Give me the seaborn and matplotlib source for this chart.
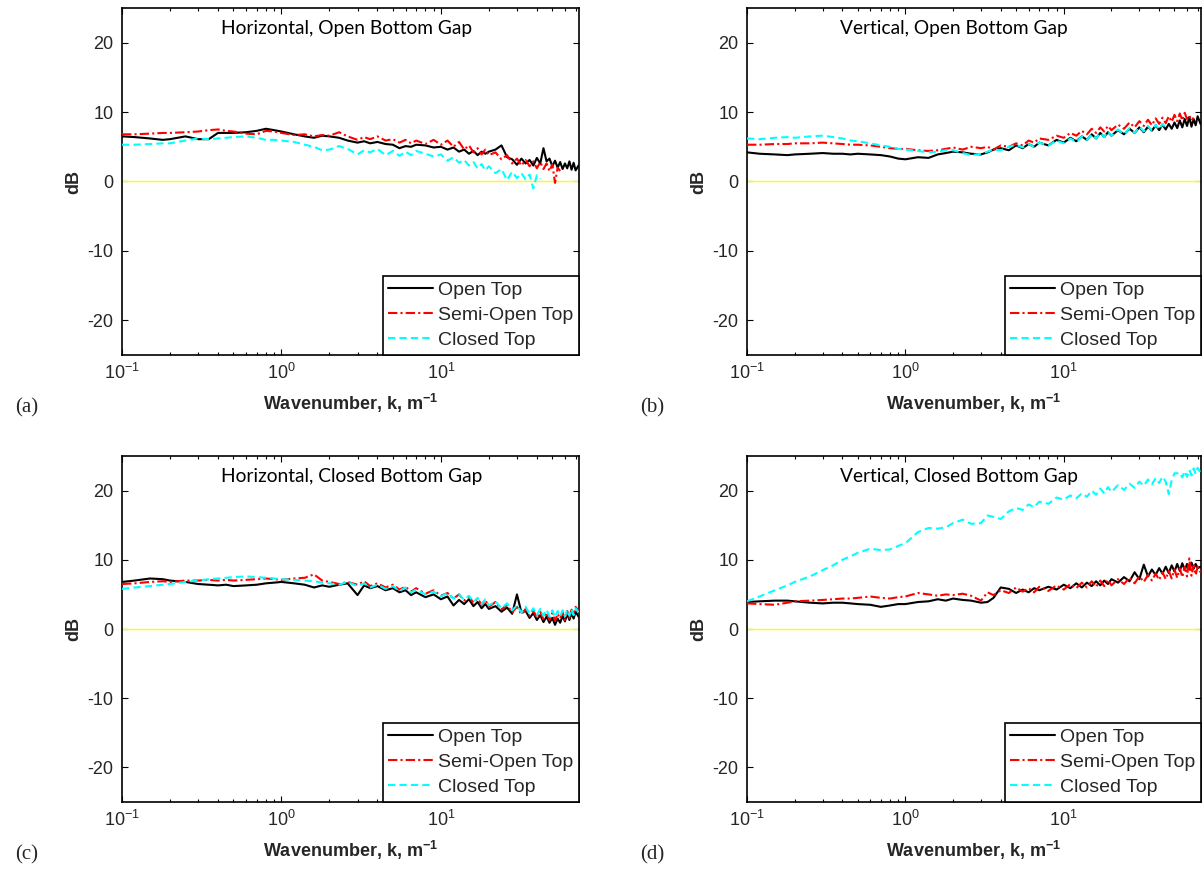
import numpy as np
import pandas as pd
import matplotlib
matplotlib.use("Agg")
import matplotlib.pyplot as plt
from matplotlib.ticker import LogLocator, FixedLocator, NullFormatter, FixedFormatter
import seaborn as sns

# Wavenumber sampling (m^-1)
k = [0.1, 0.12, 0.15, 0.18, 0.2, 0.25, 0.3, 0.35, 0.4, 0.45, 0.5, 0.6, 0.7, 0.8, 0.9, 1.0,
     1.2, 1.4, 1.6, 1.8, 2.0, 2.3, 2.6, 3.0, 3.3, 3.6, 4.0, 4.5, 5.0, 5.5, 6.0, 6.5, 7.0, 8.0, 9.0, 10,
     11, 12, 13, 14, 15, 16, 17, 18, 19, 20, 22, 24, 26, 28, 30, 32, 34, 36, 38, 40, 42, 44, 46, 48,
     50, 52, 54, 56, 58, 60, 62, 64, 66, 68, 70, 73]

# (a) Horizontal, Open Bottom Gap
a_open = [6.5, 6.4, 6.2, 6.0, 6.1, 6.5, 6.1, 6.1, 7.0, 7.0, 7.0, 7.1, 7.3, 7.6, 7.4, 7.2,
          6.8, 6.5, 6.3, 6.6, 6.5, 6.3, 5.9, 5.6, 5.8, 5.5, 5.7, 5.4, 5.3, 4.8, 5.1, 5.0, 5.3, 5.2, 4.9, 5.0,
          4.6, 4.9, 4.3, 4.6, 4.0, 4.4, 3.8, 4.3, 4.0, 4.3, 4.6, 5.2, 3.5, 3.2, 2.4, 3.3, 2.6, 3.1, 2.3, 3.4,
          2.6, 4.8, 2.9, 3.3, 2.2, 3.0, 2.0, 2.8, 1.8, 2.6, 1.9, 2.9, 1.7, 2.7, 1.6, 2.3]
a_semi = [6.8, 6.8, 6.9, 7.0, 7.0, 7.1, 7.2, 7.4, 7.5, 7.3, 7.2, 6.9, 6.8, 7.3, 7.2, 7.0,
          6.7, 6.8, 6.5, 6.7, 6.6, 7.1, 6.5, 6.0, 6.4, 6.1, 6.5, 5.9, 6.1, 5.6, 6.0, 5.5, 5.9, 5.4, 6.0, 5.3,
          5.9, 5.0, 5.7, 4.6, 5.2, 4.2, 4.8, 3.9, 4.6, 3.8, 4.2, 3.2, 3.8, 2.6, 3.3, 2.3, 3.1, 2.2, 2.9, 1.9,
          2.8, 1.8, 2.6, 1.5, 2.5, -0.2, 2.0, 1.5]
a_closed = [5.3, 5.3, 5.4, 5.5, 5.5, 5.9, 6.2, 6.1, 6.2, 6.3, 6.4, 6.5, 6.3, 6.0, 6.0, 5.9,
            5.7, 5.3, 5.0, 4.5, 4.6, 5.1, 4.7, 3.9, 4.5, 4.2, 4.7, 3.8, 4.4, 3.7, 4.3, 3.8, 4.4, 4.0, 3.6, 3.9,
            3.0, 3.5, 2.7, 3.1, 2.3, 2.8, 1.9, 2.5, 1.6, 2.2, 1.2, 1.8, 0.2, 1.4, 0.5, 1.2, 0.3, 1.0, -1.0, 0.9,
            0.4]

# (b) Vertical, Open Bottom Gap
b_open = [4.2, 4.0, 3.9, 3.8, 3.9, 4.0, 4.1, 4.0, 4.0, 3.9, 4.0, 3.9, 3.8, 3.6, 3.3, 3.2,
          3.5, 3.4, 3.9, 4.1, 4.3, 4.2, 4.0, 3.9, 4.2, 4.6, 4.8, 4.5, 5.2, 4.8, 5.4, 5.0, 5.6, 5.2, 6.0, 5.6,
          6.3, 5.8, 6.5, 6.0, 6.8, 6.2, 7.0, 6.4, 7.1, 6.6, 7.4, 6.8, 7.6, 7.0, 7.8, 7.1, 7.9, 7.3, 8.1, 7.4,
          8.2, 7.5, 8.3, 7.6, 8.5, 7.7, 8.8, 7.8, 9.0, 8.0, 9.3, 7.9, 9.0, 8.1, 9.4, 8.3]
b_semi = [5.3, 5.3, 5.4, 5.4, 5.5, 5.5, 5.6, 5.5, 5.4, 5.3, 5.3, 5.2, 5.0, 4.8, 4.7, 4.7,
          4.5, 4.4, 4.5, 4.7, 4.9, 4.6, 5.0, 4.8, 5.0, 4.6, 5.2, 5.0, 5.5, 5.2, 5.9, 5.6, 6.2, 6.0, 6.6, 6.3,
          7.0, 6.6, 7.3, 6.8, 7.6, 7.0, 7.8, 7.2, 8.0, 7.4, 8.2, 7.6, 8.5, 7.8, 8.7, 8.0, 8.9, 8.1, 9.1, 8.3,
          9.2, 8.4, 9.4, 8.6, 9.6, 8.7, 9.8, 8.8, 9.9, 9.0, 9.5, 8.8, 9.2]
b_closed = [6.2, 6.1, 6.3, 6.4, 6.3, 6.5, 6.6, 6.4, 6.2, 5.9, 5.8, 5.5, 5.2, 5.0, 4.7, 4.6,
            4.4, 4.2, 4.3, 4.5, 4.5, 4.1, 3.8, 4.0, 4.3, 4.6, 4.5, 5.0, 5.3, 4.9, 5.4, 5.0, 5.6, 5.2, 5.9, 5.5,
            6.2, 5.7, 6.5, 6.0, 6.8, 6.2, 7.0, 6.4, 7.2, 6.6, 7.5, 6.8, 7.7, 7.0, 7.9, 7.2, 8.0, 7.3, 8.2, 7.5,
            8.3, 7.8]

# (c) Horizontal, Closed Bottom Gap
c_open = [6.8, 7.0, 7.3, 7.2, 7.0, 6.8, 6.5, 6.4, 6.3, 6.4, 6.2, 6.3, 6.4, 6.6, 6.7, 6.8,
          6.6, 6.4, 6.0, 6.3, 6.1, 6.4, 6.6, 4.9, 6.3, 5.9, 6.2, 5.6, 5.9, 5.3, 5.6, 4.9, 5.3, 4.6, 5.0, 4.3,
          4.7, 3.4, 4.2, 3.6, 4.3, 3.3, 3.9, 3.0, 3.6, 2.9, 3.3, 2.5, 3.1, 2.2, 5.0, 2.4, 2.6, 1.6, 2.3, 1.3,
          2.0, 1.0, 1.8, 0.9, 1.6, 0.6, 1.5, 0.9, 1.9, 1.1, 2.2, 1.3, 2.3, 1.5, 2.5, 1.8]
c_semi = [6.5, 6.6, 6.8, 6.9, 6.8, 7.0, 7.0, 7.1, 7.0, 7.1, 7.0, 7.1, 7.2, 7.3, 7.2, 7.1,
          7.3, 7.4, 7.9, 7.0, 6.8, 6.5, 6.8, 6.4, 6.9, 6.2, 6.6, 6.0, 6.4, 5.7, 6.1, 5.4, 5.9, 5.1, 5.6, 4.8,
          5.2, 4.4, 5.0, 4.1, 4.7, 3.8, 4.4, 3.5, 4.2, 3.2, 3.9, 2.8, 3.5, 2.4, 3.2, 2.1, 2.9, 1.9, 2.7, 1.6,
          2.5, 1.4, 2.4, 1.3, 2.3, 1.2, 2.2, 1.5, 2.4, 1.3, 2.6, 1.6, 2.8, 2.0, 3.2, 2.6]
c_closed = [5.8, 6.0, 6.2, 6.4, 6.5, 6.8, 7.0, 7.2, 7.3, 7.4, 7.5, 7.6, 7.5, 7.4, 7.3, 7.2,
            7.1, 7.0, 6.9, 6.7, 6.6, 6.4, 6.8, 6.2, 6.6, 6.0, 6.4, 5.8, 6.2, 5.5, 6.0, 5.3, 5.7, 5.0, 5.4, 4.7,
            5.2, 4.4, 5.0, 4.2, 4.8, 3.9, 4.5, 3.6, 4.3, 3.4, 4.0, 3.0, 3.7, 2.7, 3.4, 2.4, 3.2, 2.2, 3.0, 2.0,
            2.9, 1.9, 2.8, 1.8, 2.7, 1.7, 2.6, 1.8, 2.7, 1.8, 2.8, 1.9, 2.9, 2.0, 3.0, 2.4]

# (d) Vertical, Closed Bottom Gap
d_open = [3.9, 4.0, 4.1, 4.1, 4.0, 3.8, 3.7, 3.8, 3.8, 3.7, 3.6, 3.5, 3.2, 3.4, 3.6, 3.6,
          3.9, 4.0, 4.3, 4.1, 4.4, 4.2, 4.1, 3.8, 3.9, 4.5, 6.0, 5.8, 5.2, 5.7, 5.3, 5.9, 5.6, 6.1, 5.7, 6.4,
          5.9, 6.6, 6.0, 6.7, 6.2, 6.9, 6.3, 7.0, 6.5, 7.2, 6.7, 7.5, 6.9, 8.2, 7.2, 9.3, 7.6, 8.6, 7.8, 8.8,
          8.0, 9.0, 8.1, 9.2, 8.3, 9.4, 8.4, 9.5, 8.5, 9.4, 8.6, 9.6, 8.7, 9.4, 8.8, 9.0]
d_semi = [3.7, 3.6, 3.5, 3.8, 4.0, 4.1, 4.2, 4.3, 4.4, 4.4, 4.5, 4.7, 4.5, 4.4, 4.6, 4.7,
          5.2, 5.0, 4.8, 5.0, 4.9, 5.1, 4.8, 4.1, 5.3, 4.9, 5.6, 5.2, 6.0, 5.4, 5.9, 5.3, 6.1, 5.5, 6.3, 5.7,
          6.5, 5.9, 6.7, 6.0, 6.9, 6.1, 7.0, 6.2, 7.1, 6.3, 7.2, 6.5, 7.4, 6.6, 7.6, 6.8, 7.8, 7.0, 8.0, 7.1,
          8.2, 7.2, 8.4, 7.3, 8.6, 7.4, 8.8, 7.5, 9.0, 7.6, 10.2, 7.7, 9.2, 7.8, 9.0, 8.2]
d_closed = [4.0, 4.7, 5.6, 6.3, 6.8, 7.6, 8.5, 9.2, 10.0, 10.5, 11.0, 11.6, 11.4, 11.5, 12.0, 12.4,
            14.0, 14.6, 14.5, 14.7, 15.3, 15.8, 15.2, 15.3, 16.4, 16.2, 15.9, 17.0, 17.5, 17.2, 18.0, 17.6,
            18.4, 18.1, 19.0, 18.7, 19.3, 18.9, 19.6, 19.1, 20.0, 19.4, 20.3, 19.6, 20.5, 19.8, 20.8, 20.1,
            21.0, 20.4, 21.3, 20.7, 21.6, 20.9, 21.8, 21.1, 22.0, 21.3, 19.5, 21.5, 22.5, 22.5, 22.6, 21.9,
            22.8, 22.0, 23.0, 22.2, 23.2, 22.4, 23.3, 22.6]

series_names = ["Open Top", "Semi-Open Top", "Closed Top"]
panel_titles = ["Horizontal, Open Bottom Gap", "Vertical, Open Bottom Gap",
                "Horizontal, Closed Bottom Gap", "Vertical, Closed Bottom Gap"]
panel_tags = ["(a)", "(b)", "(c)", "(d)"]
panel_data = [(a_open, a_semi, a_closed), (b_open, b_semi, b_closed),
              (c_open, c_semi, c_closed), (d_open, d_semi, d_closed)]
x_ticks = [0.1, 1, 10]
x_tick_labels = ["$10^{-1}$", "$10^{0}$", "$10^{1}$"]
y_ticks = [-20, -10, 0, 10, 20]
reference_level = 0

sns.set_theme(style="white")
plt.rcParams["font.family"] = ["Liberation Sans", "DejaVu Sans"]
plt.rcParams["mathtext.fontset"] = "custom"
plt.rcParams["mathtext.rm"] = "Liberation Sans"
plt.rcParams["mathtext.it"] = "Liberation Sans:italic"
plt.rcParams["mathtext.bf"] = "Liberation Sans:bold"

line_styles = {
    "Open Top": dict(color="black", linestyle="-"),
    "Semi-Open Top": dict(color="#ff0000", linestyle=(0, (4.5, 1.5, 1.0, 1.5))),
    "Closed Top": dict(color="#00ffff", linestyle=(0, (3.5, 2.0))),
}

W, H = 1204, 871
fig = plt.figure(figsize=(W / 100, H / 100), dpi=100)

# axes boxes in pixel units: left, top, right, bottom
boxes = [(122, 8, 579, 355), (747, 8, 1201, 355),
         (122, 456, 579, 802), (747, 456, 1201, 802)]
title_x = [0.217, 0.205, 0.217, 0.205]

for i, (box, title, tag, curves) in enumerate(zip(boxes, panel_titles, panel_tags, panel_data)):
    l, t, r, b = box
    ax = fig.add_axes([l / W, 1 - b / H, (r - l) / W, (b - t) / H])
    ax.axhline(reference_level, color="#ffff00", lw=1.0, zorder=1)
    for name, vals in zip(series_names, curves):
        df = pd.DataFrame({"k": k[:len(vals)], "dB": vals})
        sns.lineplot(data=df, x="k", y="dB", ax=ax, label=name, lw=1.5,
                     estimator=None, sort=False, zorder=3, **line_styles[name])
    ax.set_xscale("log")
    ax.set_xlim(0.1, 73.5)
    ax.set_ylim(-25, 25)
    ax.xaxis.set_major_locator(FixedLocator(x_ticks))
    ax.xaxis.set_major_formatter(FixedFormatter(x_tick_labels))
    ax.xaxis.set_minor_locator(LogLocator(base=10, subs=np.arange(2, 10)))
    ax.xaxis.set_minor_formatter(NullFormatter())
    ax.set_yticks(y_ticks)
    ax.set_yticklabels([str(v) for v in y_ticks])
    ax.tick_params(axis="both", which="both", direction="in", top=True, right=True,
                   bottom=True, left=True, color="black", width=0.8)
    ax.tick_params(axis="both", which="major", length=4, labelsize=13, pad=6)
    ax.tick_params(axis="x", which="minor", length=2.5)
    for s in ax.spines.values():
        s.set_color("black")
        s.set_linewidth(1.2)
        s.set_visible(True)
    ax.set_xlabel("Wavenumber, k, m$^\\mathbf{-1}$", fontsize=13, fontweight="bold", labelpad=6)
    ax.set_ylabel("dB", fontsize=13, fontweight="bold", labelpad=4)
    ax.text(title_x[i], 0.94, title, transform=ax.transAxes, ha="left", va="center",
            fontsize=13.8, family=["Lato", "DejaVu Sans"], color="black")
    leg = ax.legend(loc="lower right", fontsize=14, frameon=True, fancybox=False,
                    borderaxespad=0, handlelength=2.3, handletextpad=0.25,
                    labelspacing=0.38, borderpad=0.3, framealpha=1)
    leg.get_frame().set_edgecolor("black")
    leg.get_frame().set_linewidth(1.2)
    fig.text((l - 107) / W, 1 - (b + 53) / H, tag, ha="left", va="center",
             fontsize=15, family=["Liberation Serif", "DejaVu Serif"])

fig.savefig("out.png", dpi=100, facecolor="white")
